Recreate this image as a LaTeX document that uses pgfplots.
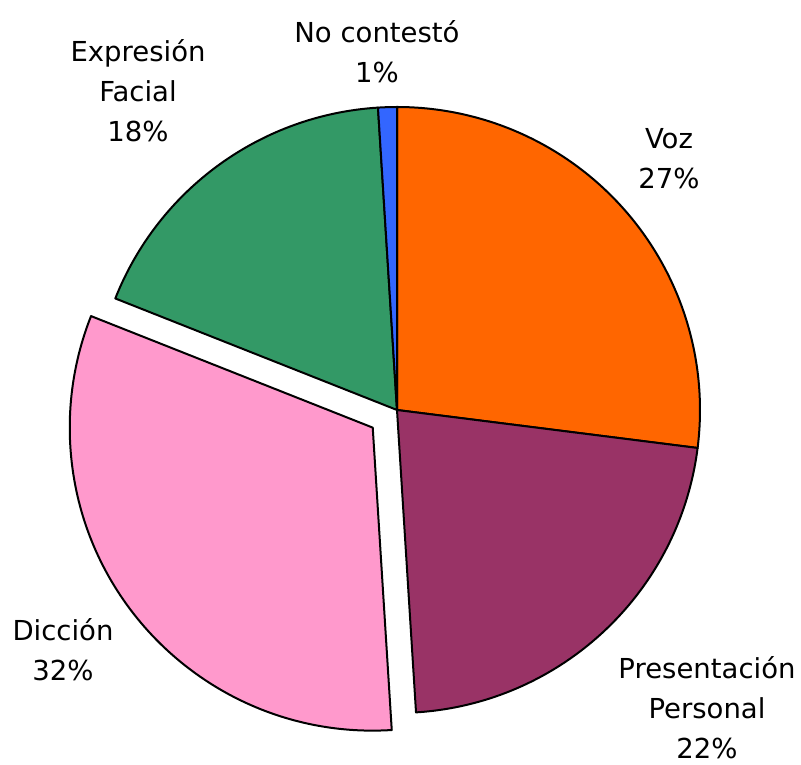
\documentclass[border=0pt]{standalone}
\usepackage{pgfplots}
\usepackage{pgfplotstable}
\pgfplotsset{compat=1.18}
\usepackage{fontspec}
\setmainfont{DejaVu Sans}

\definecolor{voz}{HTML}{FF6600}
\definecolor{pres}{HTML}{993366}
\definecolor{dicc}{HTML}{FF99CC}
\definecolor{expr}{HTML}{339966}
\definecolor{noc}{HTML}{3366FF}

% percent, colour, exploded (1) or not (0); clockwise from 12 o'clock
\pgfplotstableread{
label value color explode
Voz 27 voz 0
Presentacion 22 pres 0
Diccion 32 dicc 1
Expresion 18 expr 0
NoContesto 1 noc 0
}\piedata

\tikzset{lbl/.style={font=\fontsize{27.5}{40}\selectfont, align=center, inner sep=0pt}}

\begin{document}
\begin{tikzpicture}
\begin{axis}[
    x=1pt, y=1pt,
    xmin=-397, xmax=404,
    ymin=-355, ymax=410,
    hide axis,
    clip=false,
]
\path (axis cs:-397,-355) rectangle (axis cs:404,410);
\def\cum{0}
\pgfplotsforeachungrouped \i in {0,...,4} {%
    \pgfplotstablegetelem{\i}{value}\of\piedata \let\v\pgfplotsretval
    \pgfplotstablegetelem{\i}{color}\of\piedata \let\c\pgfplotsretval
    \pgfplotstablegetelem{\i}{explode}\of\piedata \let\e\pgfplotsretval
    \pgfmathsetmacro\a{90-\cum*3.6}%
    \pgfmathsetmacro\b{90-(\cum+\v)*3.6}%
    \pgfmathsetmacro\m{(\a+\b)/2}%
    \pgfmathsetmacro\ox{\e*30*cos(\m)}%
    \pgfmathsetmacro\oy{\e*30*sin(\m)}%
    \pgfmathsetmacro\cum{\cum+\v}%
    \edef\slice{\noexpand\filldraw[fill=\c, draw=black, line width=2pt, line join=round]
        (axis cs:\ox,\oy) -- ++(\a:303pt) arc[start angle=\a, end angle=\b, radius=303pt] -- cycle;}%
    \slice
}
\node[lbl] at (axis cs:272,251) {Voz\\27\%};
\node[lbl] at (axis cs:310,-298) {Presentación\\Personal\\22\%};
\node[lbl] at (axis cs:-334,-240) {Dicción\\32\%};
\node[lbl] at (axis cs:-259,319) {Expresión\\Facial\\18\%};
\node[lbl] at (axis cs:-20,358) {No contestó\\1\%};
\end{axis}
\end{tikzpicture}
\end{document}
